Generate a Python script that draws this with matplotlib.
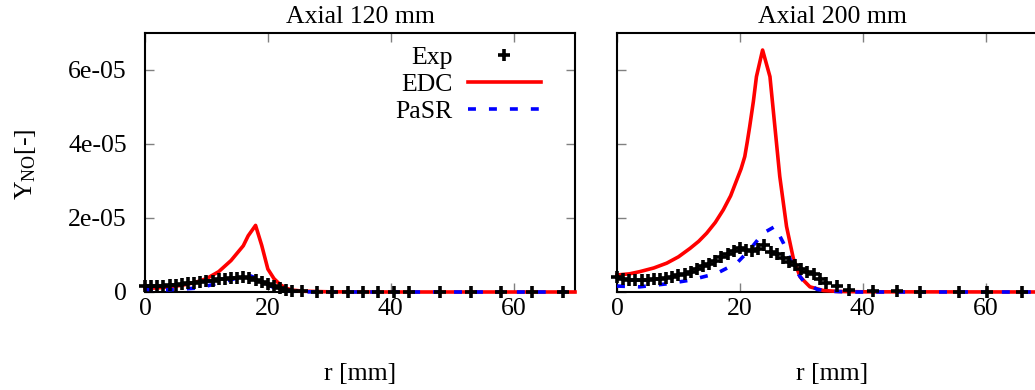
import numpy as np
import matplotlib
matplotlib.use("Agg")
import matplotlib.pyplot as plt

plt.rcParams['font.family'] = ['Liberation Serif', 'DejaVu Serif']
plt.rcParams['mathtext.fontset'] = 'custom'
plt.rcParams['mathtext.rm'] = 'Liberation Serif'
plt.rcParams['mathtext.it'] = 'Liberation Serif:italic'

# Axial 120 mm
exp_r_120 = [0, 1, 2, 3, 4, 5, 6, 7, 8, 9, 10, 11, 12, 13, 14, 15, 16, 17, 18, 19,
             20, 21, 22, 23, 24, 25.5, 28, 30.5, 33, 35.5, 38, 40.5, 43, 48, 53, 58, 63, 68]
exp_y_120 = [1.6, 1.5, 1.6, 1.7, 1.9, 2.0, 2.2, 2.3, 2.5, 2.7, 2.9, 3.1, 3.4, 3.6, 3.8,
             3.9, 4.0, 3.7, 3.3, 2.8, 2.2, 1.5, 1.0, 0.6, 0.3, 0.15, 0.1, 0.1, 0.1, 0.1,
             0.1, 0.1, 0.1, 0.1, 0.1, 0.1, 0.1, 0.1]
edc_r_120 = [0, 2, 4, 6, 8, 10, 12, 14, 15, 16, 16.8, 18.0, 19, 20, 21, 22, 23, 24, 26, 30, 40, 70]
edc_y_120 = [1.0, 1.1, 1.4, 1.8, 2.5, 3.6, 5.5, 8.5, 10.5, 12.5, 15.2, 18.0, 12.6, 6.2,
             3.6, 2.0, 1.0, 0.5, 0.2, 0.05, 0.0, 0.0]
pasr_r_120 = [0, 2, 4, 6, 8, 10, 12, 14, 15, 16, 16.8, 18, 19, 20, 21, 22, 23, 24, 26, 30, 70]
pasr_y_120 = [0.7, 0.6, 0.6, 0.8, 1.0, 1.6, 2.4, 3.3, 3.8, 4.3, 4.6, 3.8, 3.0, 1.9, 1.2,
              0.7, 0.4, 0.2, 0.05, 0.0, 0.0]

# Axial 200 mm
exp_r_200 = [0, 1, 2, 3, 4, 5, 6, 7, 8, 9, 10, 11, 12, 13, 14, 15, 16, 17, 18, 19, 20,
             21, 22, 23, 24, 25, 26, 27, 28, 29, 30, 31, 32, 33, 34, 35.8, 37.7, 41.6,
             45.5, 49.3, 55.6, 60.2, 66]
exp_y_200 = [4.0, 3.6, 3.3, 3.2, 3.2, 3.3, 3.5, 3.6, 3.8, 4.1, 4.5, 5.0, 5.3, 6.2, 7.0,
             7.7, 8.5, 9.4, 10.2, 11.0, 12.0, 11.4, 11.2, 11.6, 12.6, 10.8, 10.2, 9.3,
             8.2, 7.3, 6.2, 5.4, 4.8, 3.6, 2.5, 1.6, 0.6, 0.3, 0.15, 0.1, 0.1, 0.1, 0.1]
edc_r_200 = [0, 2, 3.7, 6, 8.1, 10, 11.9, 13.3, 14.6, 16, 17.3, 18.5, 19.5, 20.2, 20.8,
             21.2, 21.6, 22.2, 22.7, 23.7, 24.9, 25.7, 26.5, 27.6, 28.7, 29.8, 31.4,
             33.6, 36, 40, 70]
edc_y_200 = [4.6, 4.9, 5.5, 6.5, 7.8, 9.5, 11.8, 13.7, 15.9, 18.8, 22.2, 26.0, 30.3,
             33.3, 36.6, 40.5, 44.7, 51.5, 58.2, 65.4, 58.2, 44.7, 31.2, 17.7, 9.1, 4.1,
             1.4, 0.4, 0.15, 0.05, 0.0]
pasr_r_200 = [0, 3.7, 8.1, 11.9, 16.2, 19.5, 21.6, 23.8, 25.7, 27.1, 28.7, 30.4, 32.6,
              34.7, 38, 70]
pasr_y_200 = [1.6, 1.4, 2.2, 3.2, 5.0, 7.8, 11.4, 15.9, 17.7, 13.2, 6.8, 2.8, 0.7, 0.2,
              0.0, 0.0]

titles = ["Axial 120 mm", "Axial 200 mm"]
yticks = [0, 2e-5, 4e-5, 6e-5]
ytick_labels = ["0", "2e-05", "4e-05", "6e-05"]
xticks = [0, 20, 40, 60]

panels = [
    (exp_r_120, exp_y_120, edc_r_120, edc_y_120, pasr_r_120, pasr_y_120),
    (exp_r_200, exp_y_200, edc_r_200, edc_y_200, pasr_r_200, pasr_y_200),
]

fig = plt.figure(figsize=(10.35, 3.9), dpi=100)
W, H = 1035, 390
lefts = [145, 617]
ax_w, ax_top, ax_bot = 430, 33, 292
fs = 18.5

for i, (er, ey, dr, dy, pr, py) in enumerate(panels):
    ax = fig.add_axes([lefts[i] / W, 1 - ax_bot / H, ax_w / W, (ax_bot - ax_top) / H])
    ax.plot(dr, np.array(dy) * 1e-6, color='#ff0000', lw=2.6, label='EDC',
            zorder=3, clip_on=False)
    ax.plot(pr, np.array(py) * 1e-6, color='#0000ff', lw=2.6, ls=(0, (2.2, 3.6)),
            dash_capstyle='butt', label='PaSR', zorder=3, clip_on=False)
    ax.plot(er, np.array(ey) * 1e-6, ls='none', marker='+', ms=8.5, mew=2.6,
            color='black', label='Exp', zorder=4, clip_on=False)

    ax.set_xlim(0, 70)
    ax.set_ylim(0, 7e-5)
    ax.set_xticks(xticks)
    ax.set_yticks(yticks)
    ax.set_xticklabels([str(t) for t in xticks])
    if i == 0:
        ax.set_yticklabels(ytick_labels)
    else:
        ax.set_yticklabels([])
    ax.tick_params(direction='in', top=True, right=True, length=6.5, width=1.0,
                   color='#808080', labelsize=fs, labelcolor='black')
    ax.tick_params(axis='x', pad=4)
    ax.tick_params(axis='y', pad=13)
    for s in ax.spines.values():
        s.set_linewidth(1.5)
        s.set_zorder(2.5)
    ax.set_title(titles[i], fontsize=fs, pad=7)
    ax.set_xlabel("r [mm]", fontsize=fs, labelpad=31)

    if i == 0:
        h, l = ax.get_legend_handles_labels()
        order = [2, 0, 1]
        ax.legend([h[k] for k in order], [l[k] for k in order], loc='upper right',
                  bbox_to_anchor=((541 - 145) / 430, (292 - 46) / 259),
                  frameon=False, fontsize=fs, markerfirst=False, numpoints=1,
                  handlelength=2.85, handletextpad=0.6, labelspacing=0.15,
                  borderpad=0, borderaxespad=0)

fig.text(26 / W, 1 - 164 / H, r"Y$_{\mathrm{NO}}$[-]", rotation=90,
         ha='center', va='center', fontsize=fs)

fig.savefig("out.png", dpi=100)
